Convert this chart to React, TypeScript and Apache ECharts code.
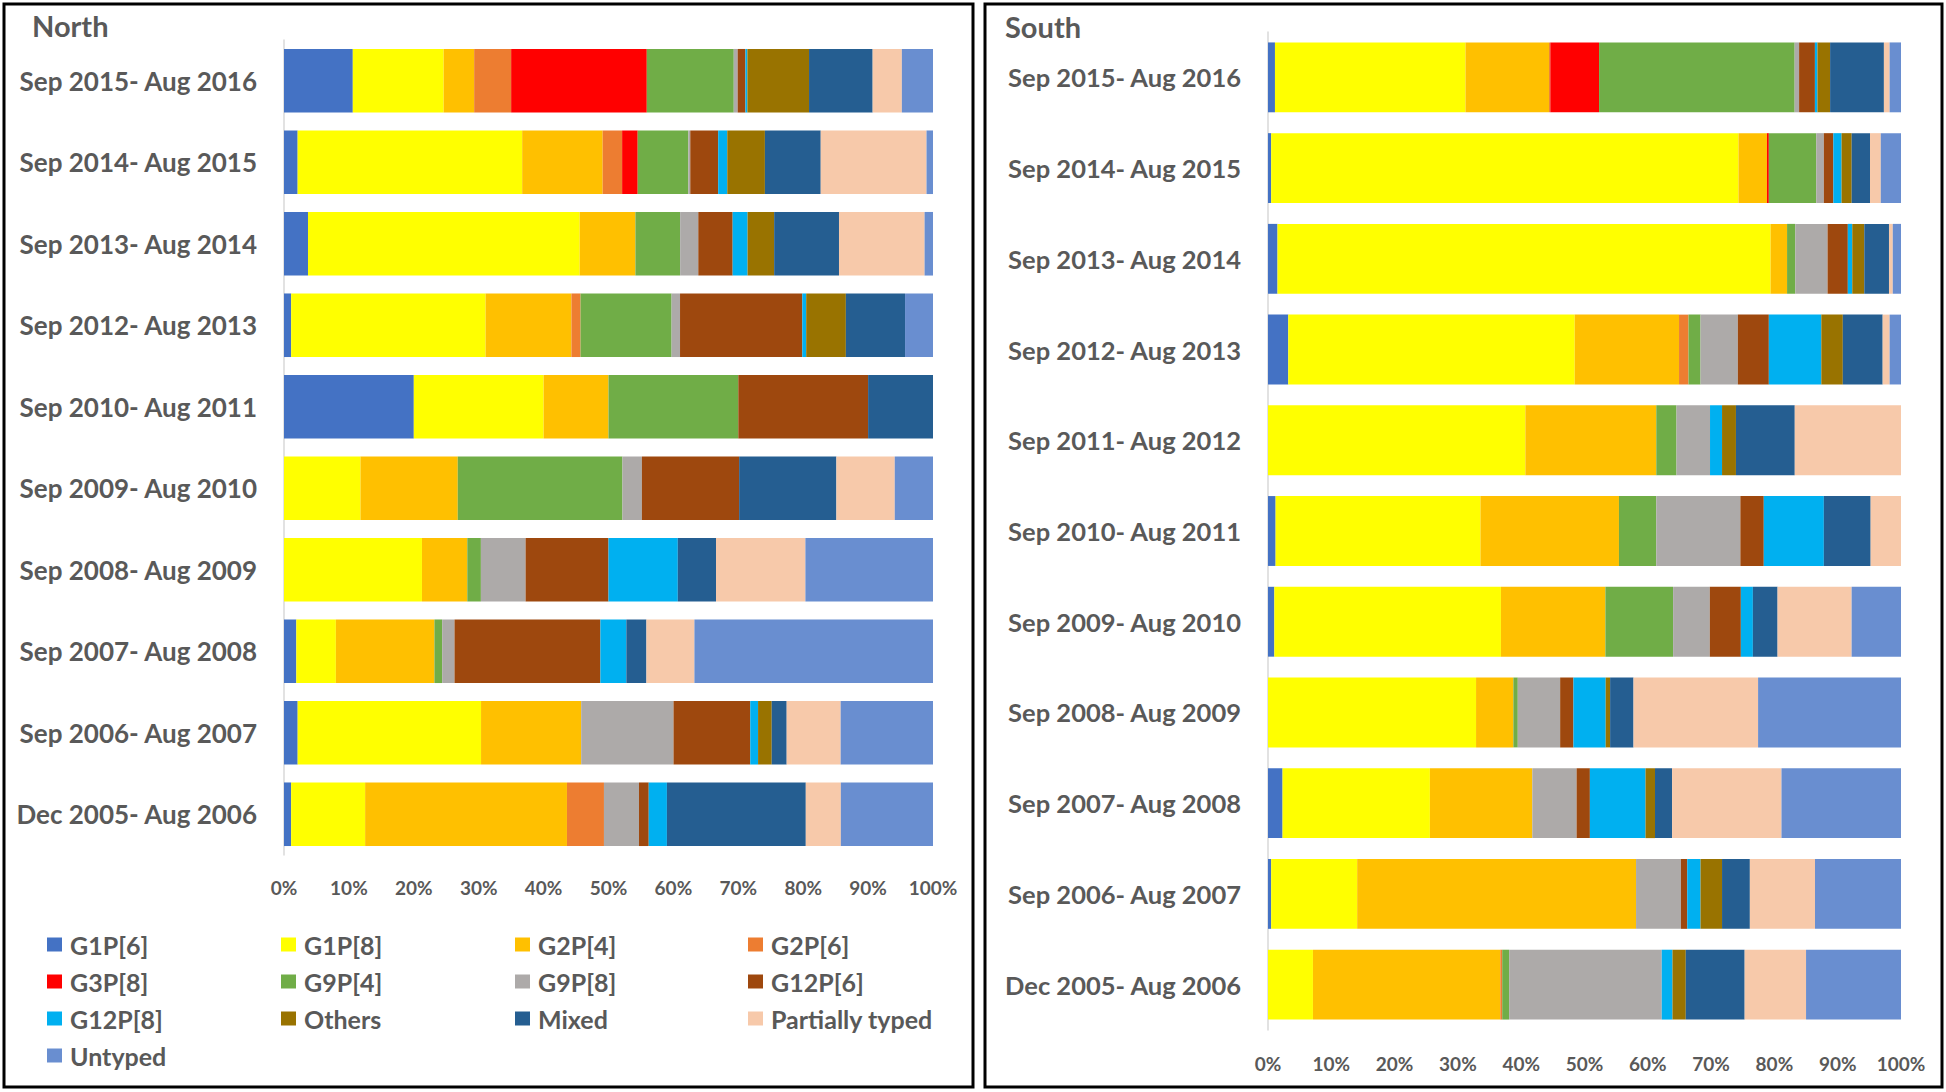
import React, { useEffect, useRef } from "react";
import * as echarts from "echarts";

const northCategories = [
  "Sep 2015- Aug 2016", "Sep 2014- Aug 2015", "Sep 2013- Aug 2014", "Sep 2012- Aug 2013",
  "Sep 2010- Aug 2011", "Sep 2009- Aug 2010", "Sep 2008- Aug 2009", "Sep 2007- Aug 2008",
  "Sep 2006- Aug 2007", "Dec 2005- Aug 2006",
];
const southCategories = [
  "Sep 2015- Aug 2016", "Sep 2014- Aug 2015", "Sep 2013- Aug 2014", "Sep 2012- Aug 2013",
  "Sep 2011- Aug 2012", "Sep 2010- Aug 2011", "Sep 2009- Aug 2010", "Sep 2008- Aug 2009",
  "Sep 2007- Aug 2008", "Sep 2006- Aug 2007", "Dec 2005- Aug 2006",
];

const genotypes = [
  "G1P[6]", "G1P[8]", "G2P[4]", "G2P[6]", "G3P[8]", "G9P[4]", "G9P[8]",
  "G12P[6]", "G12P[8]", "Others", "Mixed", "Partially typed", "Untyped",
];
const colors = [
  "#4472C4", "#FFFF00", "#FFC000", "#ED7D31", "#FF0000", "#70AD47", "#ADAAA9",
  "#9E480E", "#00B0F0", "#997300", "#255E91", "#F7C9AA", "#698ED0",
];

// North (%), one array per genotype, categories top to bottom
const northG1P6 = [10.6, 2.1, 3.7, 1.1, 20.0, 0, 0, 1.9, 2.1, 1.1];
const northG1P8 = [14.0, 34.6, 41.9, 29.9, 20.0, 11.8, 21.3, 6.1, 28.2, 11.4];
const northG2P4 = [4.7, 12.4, 8.6, 13.2, 10.0, 15.0, 7.0, 15.2, 15.4, 31.1];
const northG2P6 = [5.7, 3.0, 0, 1.4, 0, 0, 0, 0, 0, 5.7];
const northG3P8 = [20.9, 2.4, 0, 0, 0, 0, 0, 0, 0, 0];
const northG9P4 = [13.4, 7.8, 6.9, 14.0, 20.0, 25.4, 2.1, 1.2, 0, 0];
const northG9P8 = [0.6, 0.3, 2.8, 1.3, 0, 3.0, 6.9, 1.9, 14.2, 5.4];
const northG12P6 = [1.2, 4.3, 5.3, 18.8, 20.0, 15.0, 12.8, 22.5, 11.8, 1.5];
const northG12P8 = [0.3, 1.4, 2.3, 0.6, 0, 0, 10.7, 4.0, 1.2, 2.8];
const northOthers = [9.5, 5.8, 4.1, 6.1, 0, 0, 0, 0, 2.1, 0];
const northMixed = [9.8, 8.6, 10.0, 9.1, 10.0, 15.0, 5.9, 3.1, 2.3, 21.4];
const northPartial = [4.5, 16.3, 13.2, 0, 0, 9.0, 13.8, 7.4, 8.3, 5.4];
const northUntyped = [4.8, 1.0, 1.3, 4.3, 0, 5.9, 19.7, 36.8, 14.2, 14.2];

// South (%)
const southG1P6 = [1.1, 0.5, 1.5, 3.2, 0, 1.2, 1.0, 0, 2.3, 0.5, 0];
const southG1P8 = [30.1, 73.9, 77.9, 45.3, 40.7, 32.4, 35.8, 32.9, 23.3, 13.6, 7.1];
const southG2P4 = [13.2, 4.5, 2.6, 16.5, 20.7, 21.9, 16.5, 5.9, 16.2, 44.1, 29.6];
const southG2P6 = [0.2, 0, 0, 1.5, 0, 0, 0, 0, 0, 0, 0.3];
const southG3P8 = [7.7, 0.3, 0, 0, 0, 0, 0, 0, 0, 0, 0];
const southG9P4 = [30.9, 7.5, 1.3, 1.9, 3.2, 5.9, 10.7, 0.7, 0, 0, 1.1];
const southG9P8 = [0.7, 1.2, 5.1, 5.9, 5.3, 13.3, 5.8, 6.7, 7.0, 7.1, 24.1];
const southG12P6 = [2.5, 1.5, 3.2, 4.9, 0, 3.7, 4.9, 2.1, 2.1, 1.0, 0];
const southG12P8 = [0.4, 1.3, 0.7, 8.3, 1.9, 9.5, 1.9, 5.1, 8.8, 2.1, 1.7];
const southOthers = [2.0, 1.6, 1.9, 3.4, 2.2, 0, 0, 0.7, 1.5, 3.4, 2.1];
const southMixed = [8.5, 2.9, 3.9, 6.3, 9.3, 7.4, 3.9, 3.7, 2.7, 4.4, 9.3];
const southPartial = [0.9, 1.7, 0.6, 1.1, 16.8, 4.8, 11.7, 19.7, 17.3, 10.3, 9.7];
const southUntyped = [1.8, 3.2, 1.3, 1.8, 0, 0, 7.8, 22.6, 18.9, 13.6, 15.0];

const xTicks = [0, 10, 20, 30, 40, 50, 60, 70, 80, 90, 100];

const northData = [northG1P6, northG1P8, northG2P4, northG2P6, northG3P8, northG9P4, northG9P8,
  northG12P6, northG12P8, northOthers, northMixed, northPartial, northUntyped];
const southData = [southG1P6, southG1P8, southG2P4, southG2P6, southG3P8, southG9P4, southG9P8,
  southG12P6, southG12P8, southOthers, southMixed, southPartial, southUntyped];

function normalize(data: number[][]): number[][] {
  const n = data[0].length;
  const sums = Array.from({ length: n }, (_, i) => data.reduce((s, arr) => s + arr[i], 0));
  return data.map((arr) => arr.map((v, i) => (v / sums[i]) * 100));
}

const FONT = "Lato, 'Open Sans', sans-serif";
const GRAY = "#595959";

export default function App() {
  const ref = useRef<HTMLDivElement>(null);
  useEffect(() => {
    if (!ref.current) return;
    const chart = echarts.init(ref.current, undefined, { renderer: "svg" });
    const nN = normalize(northData);
    const sN = normalize(southData);

    const xAxisBase = (gridIndex: number, margin: number) => ({
      type: "value" as const,
      gridIndex,
      min: xTicks[0],
      max: xTicks[xTicks.length - 1],
      interval: 10,
      axisLabel: { formatter: "{value}%", color: GRAY, fontSize: 19, fontFamily: FONT, fontWeight: "bold", margin },
      axisLine: { show: false },
      axisTick: { show: false },
      splitLine: { show: false },
    });
    const yAxisBase = (gridIndex: number, cats: string[], fontSize: number) => ({
      type: "category" as const,
      gridIndex,
      inverse: true,
      data: cats,
      axisLine: { show: true, lineStyle: { color: "#D9D9D9", width: 1.5 } },
      axisTick: { show: false },
      axisLabel: { color: GRAY, fontSize, fontFamily: FONT, fontWeight: "bold", margin: 27 },
    });

    const series: any[] = [];
    genotypes.forEach((g, i) => {
      series.push({
        name: g, type: "bar", stack: "north", xAxisIndex: 0, yAxisIndex: 0,
        barCategoryGap: "22%", itemStyle: { color: colors[i] }, data: nN[i],
      });
    });
    genotypes.forEach((g, i) => {
      series.push({
        name: g, type: "bar", stack: "south", xAxisIndex: 1, yAxisIndex: 1,
        barCategoryGap: "23%", itemStyle: { color: colors[i] }, data: sN[i],
      });
    });

    const legendCols = [
      ["G1P[6]", "G3P[8]", "G12P[8]", "Untyped"],
      ["G1P[8]", "G9P[4]", "Others"],
      ["G2P[4]", "G9P[8]", "Mixed"],
      ["G2P[6]", "G12P[6]", "Partially typed"],
    ];
    const legendX = [47, 281, 515, 748];
    const legend = legendCols.map((col, i) => ({
      data: col,
      orient: "vertical",
      left: legendX[i],
      top: 932,
      itemWidth: 15,
      itemHeight: 14,
      itemGap: 12,
      padding: 0,
      icon: "rect",
      selectedMode: false,
      textStyle: { color: GRAY, fontSize: 25, fontWeight: "bold", fontFamily: FONT, lineHeight: 25, padding: [0, 0, 0, 3] },
    }));

    chart.setOption({
      animation: false,
      backgroundColor: "#ffffff",
      title: [
        { text: "North", left: 32, top: 11, padding: 0, textStyle: { color: GRAY, fontSize: 29, fontWeight: "bold", fontFamily: FONT } },
        { text: "South", left: 1005, top: 12, padding: 0, textStyle: { color: GRAY, fontSize: 29, fontWeight: "bold", fontFamily: FONT } },
      ],
      legend,
      grid: [
        { left: 284, width: 649, top: 40, height: 815 },
        { left: 1268, width: 633, top: 32, height: 998 },
      ],
      xAxis: [xAxisBase(0, 23), xAxisBase(1, 24)],
      yAxis: [yAxisBase(0, northCategories, 26), yAxisBase(1, southCategories, 25.5)],
      series,
      graphic: [
        { type: "rect", shape: { x: 4, y: 4, width: 969, height: 1083 }, style: { fill: "none", stroke: "#000", lineWidth: 3 }, silent: true },
        { type: "rect", shape: { x: 985, y: 4, width: 957, height: 1083 }, style: { fill: "none", stroke: "#000", lineWidth: 3 }, silent: true },
      ],
    });
    return () => chart.dispose();
  }, []);
  return <div ref={ref} style={{ position: "fixed", left: 0, top: 0, width: 1946, height: 1092 }} />;
}
